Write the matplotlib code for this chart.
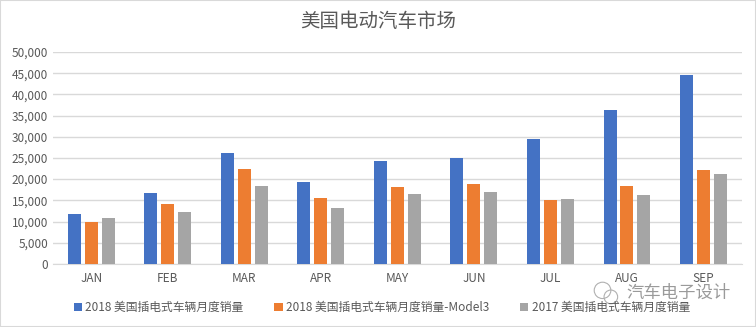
import numpy as np
import matplotlib.pyplot as plt
from matplotlib.patches import Rectangle, Ellipse

plt.rcParams['font.family'] = ['Noto Sans CJK SC', 'DejaVu Sans']

# Data
months = ['JAN', 'FEB', 'MAR', 'APR', 'MAY', 'JUN', 'JUL', 'AUG', 'SEP']
sales_2018 = [11800, 16700, 26200, 19300, 24300, 25000, 29500, 36300, 44600]
model3_2018 = [9900, 14200, 22400, 15600, 18200, 18900, 15100, 18400, 22200]
sales_2017 = [10850, 12300, 18400, 13200, 16500, 17000, 15300, 16300, 21200]
series_names = ['2018 美国插电式车辆月度销量',
                '2018 美国插电式车辆月度销量-Model3',
                '2017 美国插电式车辆月度销量']
colors = ['#4472c4', '#ed7d31', '#a5a5a5']
text_gray = '#595959'

fig = plt.figure(figsize=(7.56, 3.27), dpi=100)
ax = fig.add_axes([0.070, 0.193, 0.911, 0.648])

x = np.arange(len(months))
w = 0.17
step = 0.22
for i, vals in enumerate([sales_2018, model3_2018, sales_2017]):
    ax.bar(x + (i - 1) * step, vals, width=w, color=colors[i], label=series_names[i], zorder=3)

ax.set_xlim(-0.5, len(months) - 0.5)
ax.set_ylim(0, 50000)
ax.set_yticks(np.arange(0, 50001, 5000))
ax.set_yticklabels([f'{v:,}' for v in range(0, 50001, 5000)])
ax.set_xticks(x)
ax.set_xticklabels(months)
ax.tick_params(axis='both', length=0, colors=text_gray, labelsize=8.5)
ax.tick_params(axis='x', pad=6)
ax.grid(axis='y', color='#d9d9d9', linewidth=1, zorder=0)
for s in ['top', 'right', 'left']:
    ax.spines[s].set_visible(False)
ax.spines['bottom'].set_color('#d9d9d9')

fig.text(0.5, 0.935, '美国电动汽车市场', ha='center', va='center', fontsize=14, color=text_gray)

leg = fig.legend(loc='center', bbox_to_anchor=(0.505, 0.06), ncol=3, frameon=False,
                 fontsize=8.5, handlelength=0.7, handleheight=0.7, handletextpad=0.3,
                 columnspacing=2.6)
for t in leg.get_texts():
    t.set_color(text_gray)

# watermark
fig.text(0.966, 0.104, '汽车电子设计', ha='right', va='center', fontsize=12.5, color='#9a9a9a')
fig.patches.append(Ellipse((0.797, 0.112), 0.022, 0.05, transform=fig.transFigure,
                           fill=False, edgecolor='#b0b0b0', linewidth=0.8))
fig.patches.append(Ellipse((0.808, 0.092), 0.018, 0.042, transform=fig.transFigure,
                           fill=False, edgecolor='#b0b0b0', linewidth=0.8))

fig.patches.append(Rectangle((0, 0), 1, 1, transform=fig.transFigure, fill=False,
                             edgecolor='#d9d9d9', linewidth=1.5))

fig.savefig('out.png', dpi=100)
